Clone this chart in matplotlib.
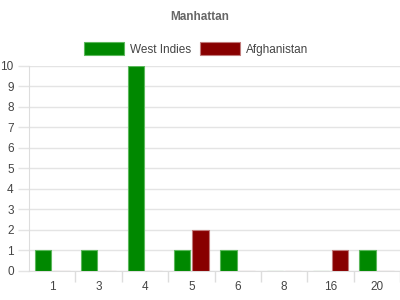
import matplotlib
matplotlib.use("Agg")
import matplotlib.pyplot as plt
import numpy as np

categories = ["1", "3", "4", "5", "6", "8", "16", "20"]
west_indies = [1, 1, 10, 1, 1, 0, 0, 1]
afghanistan = [0, 0, 0, 2, 0, 0, 1, 0]
y_ticks = list(range(0, 11))

plt.rcParams['font.family'] = ['Liberation Sans', 'DejaVu Sans']

fig = plt.figure(figsize=(4, 3), dpi=100)
ax = fig.add_axes([0.0725, 0.0967, 0.9275, 0.6833])

x = np.arange(len(categories))
w = 0.35
b1 = ax.bar(x - 0.2, west_indies, w, color="#008800", edgecolor="#5cb85c", linewidth=0.8, zorder=3)
b2 = ax.bar(x + 0.2, afghanistan, w, color="#880000", edgecolor="#c07a7a", linewidth=0.8, zorder=3)

ax.set_xlim(-0.5, len(categories) - 0.5)
ax.set_ylim(0, 10)
ax.set_yticks(y_ticks)
ax.set_yticklabels([str(v) for v in y_ticks], fontsize=8.5, color="#444444")
ax.set_xticks(x)
ax.set_xticklabels(categories, fontsize=8.5, color="#444444")
ax.set_xticks(x + 0.5, minor=True)
ax.tick_params(axis='x', which='major', length=0, pad=7)
ax.tick_params(axis='x', which='minor', length=8, color="#dddddd", width=1)
ax.tick_params(axis='y', length=8, color="#e4e4e4", width=1, pad=3)
ax.grid(axis='y', color="#e4e4e4", linewidth=1, zorder=0)

for s in ['top', 'right']:
    ax.spines[s].set_visible(False)
ax.spines['left'].set_color("#dddddd")
ax.spines['bottom'].set_color("#dddddd")

fig.text(0.5, 0.945, "Manhattan", ha='center', va='center', fontsize=8.5, fontweight='bold', color="#666666")
fig.legend([b1, b2], ["West Indies", "Afghanistan"], loc='center', bbox_to_anchor=(0.49, 0.837),
           ncol=2, frameon=False, fontsize=8.5, handlelength=3.4, handleheight=1.3,
           columnspacing=0.8, handletextpad=0.45, labelcolor="#444444")

fig.savefig("out.png", dpi=100)
